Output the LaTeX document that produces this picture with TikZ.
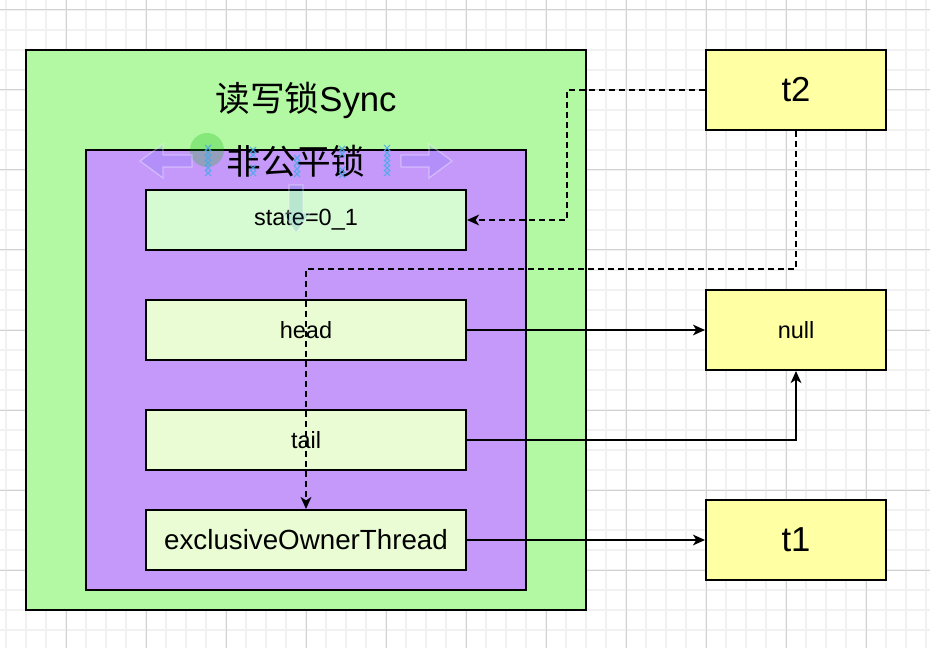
\documentclass[tikz,border=0pt]{standalone}
\usepackage{fontspec}
\setmainfont{Liberation Sans}
\newfontfamily\cjk{Noto Sans CJK SC}
\usetikzlibrary{arrows.meta}
\definecolor{gridminor}{RGB}{241,241,241}
\definecolor{gridmajor}{RGB}{210,210,210}
\definecolor{outergreen}{RGB}{179,249,163}
\definecolor{innerpurple}{RGB}{197,153,250}
\definecolor{statefill}{RGB}{214,251,210}
\definecolor{fieldfill}{RGB}{234,252,212}
\definecolor{threadyellow}{RGB}{255,255,163}
\definecolor{selblue}{RGB}{70,170,235}
\tikzset{
  box/.style={draw=black, line width=1.5pt, inner sep=0pt, rectangle},
  fieldbox/.style={box, fill=fieldfill, minimum width=240pt, minimum height=45pt,
    font=\fontsize{17.6}{20}\selectfont},
  threadbox/.style={box, fill=threadyellow, minimum width=135pt, minimum height=60pt},
  bigtext/.style={font=\fontsize{26}{30}\selectfont},
  conn/.style={line width=1.5pt, -{Stealth[length=9pt,width=8pt,inset=2.5pt]}},
  dconn/.style={conn, dash pattern=on 4.5pt off 3pt},
}
\begin{document}
\begin{tikzpicture}[x=0.75pt,y=-0.75pt]
\useasboundingbox (0,0) rectangle (930,648);
% grid
\foreach \gx in {6,26,...,926} \draw[gridminor, line width=1.1pt] (\gx,0) -- (\gx,648);
\foreach \gy in {10,30,...,640} \draw[gridminor, line width=1.1pt] (0,\gy) -- (930,\gy);
\foreach \gx in {66,146,...,926} \draw[gridmajor, line width=0.75pt] (\gx,0) -- (\gx,648);
\foreach \gy in {10,90,...,640} \draw[gridmajor, line width=0.75pt] (0,\gy) -- (930,\gy);

% containers
\node[box, fill=outergreen, minimum width=420pt, minimum height=420pt] (sync) at (306,330) {};
\node[box, fill=innerpurple, minimum width=330pt, minimum height=330pt] (nf) at (306,370) {};
\node[bigtext] (synclabel) at (306,100) {{\cjk 读写锁}Sync};
\node[bigtext] (nflabel) at (296,161) {\cjk 非公平锁};

% fields
\node[fieldbox, fill=statefill] (state) at (306,220) {state=0\_1};
\node[fieldbox] (head) at (306,330) {head};
\node[fieldbox] (tail) at (306,440) {tail};
\node[fieldbox, font=\fontsize{20.8}{24}\selectfont] (excl) at (306,540) {exclusiveOwnerThread};

% threads
\node[threadbox, bigtext] (t2) at (796,90) {t2};
\node[threadbox, font=\fontsize{17.6}{20}\selectfont] (null) at (796,330) {null};
\node[threadbox, bigtext] (t1) at (796,540) {t1};

% editor selection overlays (faint)
\fill[green!70!black, opacity=0.25] (207,150) circle (17);
\draw[white, opacity=0.35, fill=blue!60, fill opacity=0.18, line width=1pt]
  (140,161) -- (163,144) -- (163,155) -- (192,155) -- (192,167) -- (163,167) -- (163,178) -- cycle;
\draw[white, opacity=0.35, fill=blue!60, fill opacity=0.18, line width=1pt]
  (452,161) -- (429,144) -- (429,155) -- (401,155) -- (401,167) -- (429,167) -- (429,178) -- cycle;
\draw[white, opacity=0.35, fill=cyan!50!blue, fill opacity=0.15, line width=1pt]
  (289,185) -- (303,185) -- (303,213) -- (310,213) -- (296,233) -- (283,213) -- (289,213) -- cycle;
\foreach \cx/\cy in {208/148,208/153,208/158,208/163,208/168,208/173,
                     253/150,253/155,253/168,253/173,
                     297/158,297/163,297/169,297/174,
                     342/149,342/154,342/170,342/175,
                     387/148,387/153,387/158,387/163,387/168,387/173}
  \draw[selblue, line width=0.8pt, opacity=0.85] (\cx-3,\cy-3) -- (\cx+3,\cy+3) (\cx-3,\cy+3) -- (\cx+3,\cy-3);

% connectors
\draw[dconn] (t2.west) -- ++(-138,0) |- (state.east);
\draw[dconn] (t2.south) -- ++(0,138) -| (excl.north);
\draw[conn] (head.east) -- (null.west);
\draw[conn] (tail.east) -| (null.south);
\draw[conn] (excl.east) -- (t1.west);
\end{tikzpicture}
\end{document}
